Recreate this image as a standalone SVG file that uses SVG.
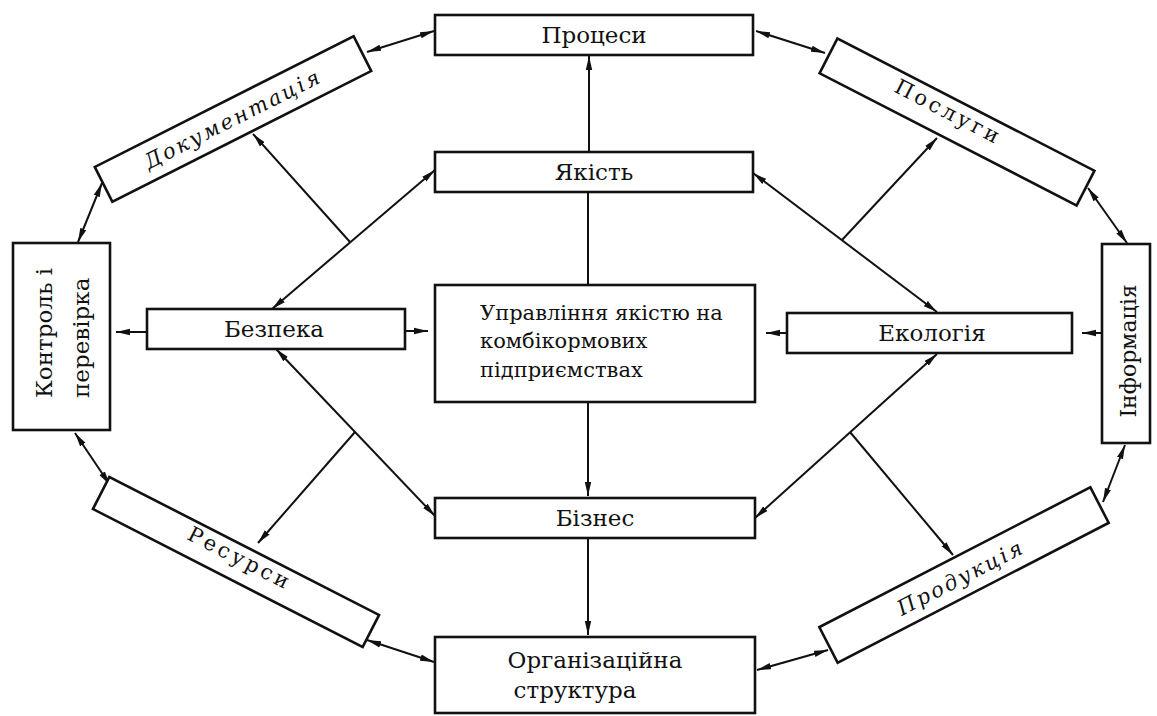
<svg xmlns="http://www.w3.org/2000/svg" width="1157" height="716" viewBox="0 0 1157 716">
  <defs>
    <style>
      .box { fill: #ffffff; stroke: #111111; stroke-width: 2.6; }
      .lbl { font-family: "DejaVu Serif", "Liberation Serif", serif; fill: #111111; }
      .c { font-size: 23px; text-anchor: middle; }
      .m { font-size: 21px; }
      .it { font-size: 21px; font-style: italic; text-anchor: middle; }
      .sp { font-size: 21px; text-anchor: middle; letter-spacing: 3.5px; }
      .ln { fill: none; stroke: #111111; stroke-width: 2; }
    </style>
    <marker id="head" viewBox="0 0 14 8" refX="14" refY="4" markerWidth="14" markerHeight="8" markerUnits="userSpaceOnUse" orient="auto-start-reverse">
      <path d="M0,0.8 L14,4 L0,7.2 Z" fill="#111111"/>
    </marker>
  </defs>

  <rect width="1157" height="716" fill="#ffffff"/>

  <!-- connectors -->
  <g id="connectors">
    <!-- central column -->
    <line class="ln" x1="589" y1="152" x2="589" y2="56" marker-end="url(#head)"/>
    <line class="ln" x1="588" y1="285" x2="588" y2="192"/>
    <line class="ln" x1="588" y1="402" x2="588" y2="496" marker-end="url(#head)"/>
    <line class="ln" x1="588" y1="538" x2="588" y2="635" marker-end="url(#head)"/>

    <!-- short horizontal links -->
    <line class="ln" x1="147" y1="332" x2="116" y2="332" marker-end="url(#head)"/>
    <line class="ln" x1="405" y1="331" x2="428" y2="331" marker-end="url(#head)"/>
    <line class="ln" x1="787" y1="333" x2="766" y2="333" marker-end="url(#head)"/>
    <line class="ln" x1="1102" y1="333" x2="1082" y2="333" marker-end="url(#head)"/>

    <!-- left diagonals with branches -->
    <line class="ln" x1="272" y1="309" x2="435" y2="170" marker-start="url(#head)" marker-end="url(#head)"/>
    <line class="ln" x1="350" y1="242" x2="253" y2="134" marker-end="url(#head)"/>
    <line class="ln" x1="276" y1="349" x2="435" y2="516" marker-start="url(#head)" marker-end="url(#head)"/>
    <line class="ln" x1="355" y1="432" x2="258" y2="543" marker-end="url(#head)"/>

    <!-- right diagonals with branches -->
    <line class="ln" x1="753" y1="173" x2="937" y2="312" marker-start="url(#head)" marker-end="url(#head)"/>
    <line class="ln" x1="842" y1="240" x2="937" y2="138" marker-end="url(#head)"/>
    <line class="ln" x1="937" y1="354" x2="755" y2="518" marker-start="url(#head)" marker-end="url(#head)"/>
    <line class="ln" x1="850" y1="432" x2="953" y2="555" marker-end="url(#head)"/>

    <!-- outer ring -->
    <line class="ln" x1="367" y1="52" x2="434" y2="31" marker-start="url(#head)" marker-end="url(#head)"/>
    <line class="ln" x1="102" y1="183" x2="78" y2="242" marker-start="url(#head)" marker-end="url(#head)"/>
    <line class="ln" x1="75" y1="433" x2="110" y2="485" marker-start="url(#head)" marker-end="url(#head)"/>
    <line class="ln" x1="367" y1="640" x2="434" y2="662" marker-start="url(#head)" marker-end="url(#head)"/>
    <line class="ln" x1="756" y1="31" x2="825" y2="53" marker-start="url(#head)" marker-end="url(#head)"/>
    <line class="ln" x1="1088" y1="188" x2="1127" y2="243" marker-start="url(#head)" marker-end="url(#head)"/>
    <line class="ln" x1="1125" y1="445" x2="1103" y2="502" marker-start="url(#head)" marker-end="url(#head)"/>
    <line class="ln" x1="828" y1="650" x2="757" y2="670" marker-start="url(#head)" marker-end="url(#head)"/>
  </g>

  <!-- central column nodes -->
  <g id="node-protsesy">
    <rect class="box" x="435" y="15" width="318" height="40"/>
    <text class="lbl c" x="594" y="43">Процеси</text>
  </g>
  <g id="node-yakist">
    <rect class="box" x="435" y="152" width="318" height="40"/>
    <text class="lbl c" x="594" y="180">Якість</text>
  </g>
  <g id="node-upravlinnia">
    <rect class="box" x="435" y="285" width="320" height="117"/>
    <text class="lbl m" x="480" y="320">Управління якістю на</text>
    <text class="lbl m" x="480" y="348">комбікормових</text>
    <text class="lbl m" x="480" y="377">підприємствах</text>
  </g>
  <g id="node-biznes">
    <rect class="box" x="435" y="498" width="320" height="40"/>
    <text class="lbl c" x="595" y="526">Бізнес</text>
  </g>
  <g id="node-orhstruktura">
    <rect class="box" x="435" y="637" width="320" height="76"/>
    <text class="lbl c" x="595" y="668">Організаційна</text>
    <text class="lbl c" x="575" y="698">структура</text>
  </g>

  <!-- middle row -->
  <g id="node-bezpeka">
    <rect class="box" x="147" y="309" width="258" height="40"/>
    <text class="lbl c" x="274" y="337">Безпека</text>
  </g>
  <g id="node-ekolohiia">
    <rect class="box" x="787" y="313" width="285" height="40"/>
    <text class="lbl c" x="932" y="341">Екологія</text>
  </g>

  <!-- side columns -->
  <g id="node-kontrol">
    <rect class="box" x="13" y="243" width="97" height="187"/>
    <g transform="translate(0,336) rotate(-90)">
      <text class="lbl" font-size="23" x="-62" y="52">Контроль і</text>
      <text class="lbl" font-size="23" x="-62" y="89">перевірка</text>
    </g>
  </g>
  <g id="node-informatsiia">
    <rect class="box" x="1102" y="244" width="48" height="199"/>
    <g transform="translate(0,351) rotate(-90)">
      <text class="lbl" font-size="22" text-anchor="middle" x="0" y="1136">Інформація</text>
    </g>
  </g>

  <!-- tilted nodes on the ring -->
  <g id="node-dokumentatsiia" transform="translate(233,119) rotate(-26.8)">
    <rect class="box" x="-145" y="-19.5" width="290" height="39"/>
    <text class="lbl it" x="0" y="7" letter-spacing="2.5">Документація</text>
  </g>
  <g id="node-posluhy" transform="translate(957,122) rotate(27.2)">
    <rect class="box" x="-144.5" y="-19.5" width="289" height="39"/>
    <text class="lbl sp" x="-12" y="2">Послуги</text>
  </g>
  <g id="node-resursy" transform="translate(236,562) rotate(27.1)">
    <rect class="box" x="-151.5" y="-18" width="303" height="36"/>
    <text class="lbl sp" x="2" y="2">Ресурси</text>
  </g>
  <g id="node-produktsiia" transform="translate(964,575) rotate(-27.3)">
    <rect class="box" x="-152.5" y="-20" width="305" height="40"/>
    <text class="lbl it" x="-4" y="8" letter-spacing="2.5">Продукція</text>
  </g>
</svg>
